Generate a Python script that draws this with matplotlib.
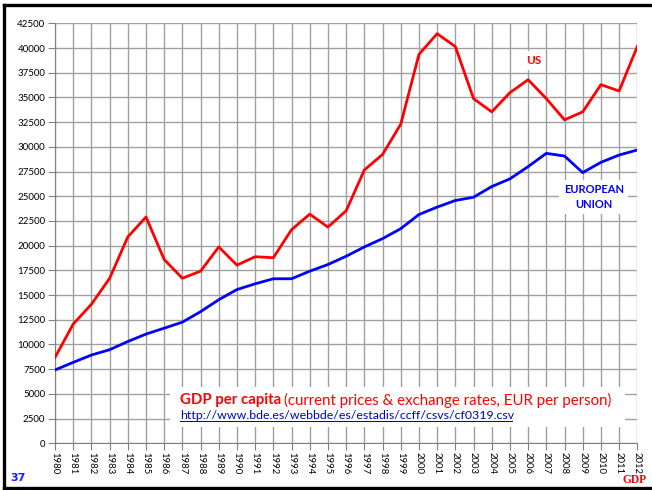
import matplotlib.pyplot as plt
from matplotlib.patches import Rectangle
from matplotlib.lines import Line2D

years = list(range(1980, 2013))

us = [8690, 12060, 14070, 16690, 20880, 22900, 18600, 16700, 17420, 19870,
      18030, 18880, 18780, 21620, 23190, 21880, 23530, 27660, 29230, 32290,
      39350, 41450, 40150, 34880, 33540, 35480, 36790, 34880, 32730, 33540,
      36290, 35650, 40150]

eu = [7420, 8190, 8930, 9470, 10300, 11050, 11650, 12260, 13320, 14530,
      15560, 16140, 16650, 16650, 17420, 18090, 18930, 19870, 20710, 21720,
      23150, 23900, 24570, 24900, 25980, 26760, 28000, 29340, 29070, 27390,
      28430, 29170, 29680]

yticks = list(range(0, 42501, 2500))

plt.rcParams['font.family'] = ['Lato', 'DejaVu Sans']

W, H = 652, 490
fig = plt.figure(figsize=(6.52, 4.9), dpi=100)
ax = fig.add_axes([55 / W, 1 - 443.3 / H, (637.3 - 55) / W, (443.3 - 23.3) / H])

ax.plot(years, us, color='#ff0000', lw=2, zorder=3)
ax.plot(years, eu, color='#0000ff', lw=2, zorder=3)

ax.set_xlim(1980, 2012)
ax.set_ylim(0, 42500)
ax.set_xticks(years)
ax.set_xticklabels([str(y) for y in years], rotation=-90, fontsize=6.8)
ax.set_yticks(yticks)
ax.set_yticklabels([str(v) for v in yticks], fontsize=7)
ax.grid(True, color='#a0a0a0', lw=1)
ax.set_axisbelow(True)
ax.tick_params(axis='both', direction='out', length=5, color='#808080', pad=2)
ax.tick_params(axis='x', pad=1)
for side in ['top', 'right']:
    ax.spines[side].set_visible(False)
for side in ['left', 'bottom']:
    ax.spines[side].set_color('#808080')

# series labels
ax.text(2006.3, 38700, 'US', color='#ff0000', fontsize=8.5, fontweight='bold',
        ha='center', va='center', bbox=dict(facecolor='white', edgecolor='none', pad=3), zorder=4)
ax.text(2009.6, 24900, 'EUROPEAN\nUNION', color='#0000ff', fontsize=8, fontweight='bold',
        ha='center', va='center', linespacing=1.4,
        bbox=dict(facecolor='white', edgecolor='none', pad=3), zorder=4)

# caption box
fig.patches.append(Rectangle((170 / W, 1 - 427 / H), 455 / W, 40 / H,
                             transform=fig.transFigure, facecolor='white',
                             edgecolor='none', zorder=2))
t1 = fig.text(180 / W, 1 - 400 / H, 'GDP per capita', color='#ff0000',
              fontsize=10.8, fontweight='bold', va='center', zorder=5)
fig.canvas.draw()
bb = t1.get_window_extent()
fig.text(bb.x1 / W + 3 / W, 1 - 400 / H,
         '(current prices & exchange rates, EUR per person)',
         color='#ff0000', fontsize=10.8, va='center', zorder=5)
fig.text(180 / W, 1 - 415 / H, 'http://www.bde.es/webbde/es/estadis/ccff/csvs/cf0319.csv',
         color='#0000cc', fontsize=8.9, va='center', zorder=5)
fig.patches.append(Rectangle((180 / W, 1 - 421.5 / H), 333 / W, 0.9 / H,
                             transform=fig.transFigure, facecolor='#0000cc',
                             edgecolor='none', zorder=5))

fig.text(10 / W, 1 - 478 / H, '37', color='#1a1aff', fontsize=8,
         fontweight='bold', va='center', family='DejaVu Sans')
fig.text(647 / W, 1 - 480 / H, 'GDP', color='#ff0000', fontsize=8.3,
         fontweight='bold', va='center', ha='right', family='Liberation Serif')

# page frame (top, left and bottom edges)
frame = dict(transform=fig.transFigure, color='black', lw=2.4, zorder=6)
fig.lines.append(Line2D([4 / W, 1], [1 - 5 / H, 1 - 5 / H], **frame))
fig.lines.append(Line2D([4 / W, 4 / W], [1 - 5 / H, 1 - 488 / H], **frame))
fig.lines.append(Line2D([4 / W, 1], [1 - 488 / H, 1 - 488 / H], **frame))

fig.savefig('out.png', dpi=100)
